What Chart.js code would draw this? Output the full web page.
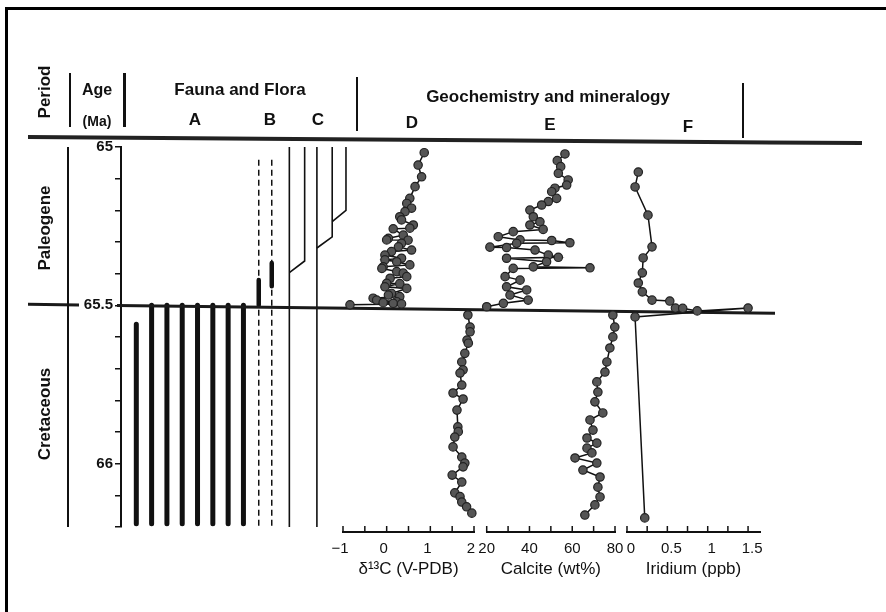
<!DOCTYPE html>
<html>
<head>
<meta charset="utf-8">
<script src="https://cdn.jsdelivr.net/npm/chart.js@4"></script>
<style>
  html, body { margin: 0; padding: 0; background: #fff; }
  #wrap { position: relative; width: 886px; height: 612px; overflow: hidden;
          font-family: "Liberation Sans", Arial, sans-serif; color: #111; }
  #wrap canvas { position: absolute; left: 0; top: 0; }
  .frame { position: absolute; left: 5px; top: 7px; width: 900px; height: 620px;
           border-top: 3px solid #000; border-left: 3px solid #000; }
  .t { position: absolute; font-weight: bold; white-space: nowrap; font-size: 17px;
       transform: translate(-50%, -50%); }
  .rot { transform: translate(-50%, -50%) rotate(-90deg); }
  .v { position: absolute; width: 2px; background: #111; }
  .rule { position: absolute; left: 28px; top: 135px; width: 834px; height: 4px; background: #222;
          transform: rotate(0.42deg); transform-origin: left center; }
</style>
</head>
<body>
<div id="wrap">
  <canvas id="fauna" width="886" height="612"></canvas>
  <canvas id="panelD" width="886" height="612"></canvas>
  <canvas id="panelE" width="886" height="612"></canvas>
  <canvas id="panelF" width="886" height="612"></canvas>

  <div class="frame"></div>
  <div class="rule"></div>
  <div class="v" style="left:69px;top:73px;height:54px"></div>
  <div class="v" style="left:123px;top:73px;height:54px;width:2.5px"></div>
  <div class="v" style="left:356px;top:77px;height:54px"></div>
  <div class="v" style="left:742px;top:83px;height:55px"></div>
  <div class="v" style="left:67px;top:147px;height:380px"></div>

  <div class="t rot" style="left:45px;top:92px">Period</div>
  <div class="t" style="left:97px;top:90px;font-size:16px">Age</div>
  <div class="t" style="left:97px;top:121px;font-size:14px">(Ma)</div>
  <div class="t" style="left:240px;top:90px">Fauna and Flora</div>
  <div class="t" style="left:195px;top:120px">A</div>
  <div class="t" style="left:270px;top:120px">B</div>
  <div class="t" style="left:318px;top:120px">C</div>
  <div class="t" style="left:548px;top:97px">Geochemistry and mineralogy</div>
  <div class="t" style="left:412px;top:123px">D</div>
  <div class="t" style="left:550px;top:125px">E</div>
  <div class="t" style="left:688px;top:127px">F</div>
  <div class="t rot" style="left:45px;top:228px">Paleogene</div>
  <div class="t rot" style="left:45px;top:414px">Cretaceous</div>
</div>

<script>
// age axis (Ma)
const ageLabels = [65, 65.5, 66];
const boundaryAge = 65.5;

// A: lineages that stop at the boundary
const aSlots = [1, 2, 3, 4, 5, 6, 7, 8];
const aTops = [65.56, 65.5, 65.5, 65.5, 65.5, 65.5, 65.5, 65.5];
const aBases = [66.19, 66.19, 66.19, 66.19, 66.19, 66.19, 66.19, 66.19];

// B: dashed ranges with an acme interval
const bSlots = [9, 9.85];
const bTops = [65.04, 65.04];
const bBases = [66.2, 66.2];
const bAcmeTops = [65.42, 65.366];
const bAcmeBases = [65.5, 65.44];

// C: survivors and new lineages branching off
const cSlots = [11, 12, 12.8, 13.8, 14.7];
const cTops = [65, 65, 65, 65, 65];
const cBases = [66.2, 65.36, 66.2, 65.284, 65.2];
const cBranchSlots = [null, 11, null, 12.8, 13.8];
const cBranchAges = [null, 65.397, null, 65.319, 65.236];

// D: d13C (V-PDB)
const dPaleoAges = [65.018, 65.057, 65.094, 65.125, 65.162, 65.178, 65.193, 65.204, 65.220, 65.230,
  65.246, 65.256, 65.258, 65.278, 65.288, 65.293, 65.294, 65.304, 65.315, 65.325,
  65.330, 65.341, 65.351, 65.356, 65.362, 65.372, 65.378, 65.383, 65.393, 65.398,
  65.409, 65.414, 65.430, 65.431, 65.441, 65.446, 65.462, 65.467, 65.472, 65.477,
  65.483, 65.488, 65.491, 65.493, 65.495, 65.498];
const dPaleoValues = [0.86, 0.72, 0.80, 0.65, 0.53, 0.46, 0.57, 0.42, 0.30, 0.34,
  0.61, 0.53, 0.15, 0.38, 0.04, 0.00, 0.49, 0.34, 0.27, 0.57,
  0.11, -0.04, 0.34, -0.04, 0.23, 0.53, -0.08, -0.11, 0.23, 0.38,
  0.46, 0.08, 0.00, 0.30, -0.04, 0.46, 0.11, 0.04, 0.30, -0.31,
  -0.23, 0.23, -0.08, 0.15, 0.34, -0.84];
const dCretAges = [65.530, 65.568, 65.583, 65.609, 65.619, 65.651, 65.678, 65.703, 65.713, 65.751,
  65.776, 65.795, 65.830, 65.883, 65.898, 65.915, 65.946, 65.978, 65.997, 66.009,
  66.035, 66.057, 66.091, 66.103, 66.120, 66.135, 66.155];
const dCretValues = [1.86, 1.91, 1.91, 1.84, 1.87, 1.79, 1.72, 1.75, 1.68, 1.72,
  1.52, 1.75, 1.61, 1.63, 1.64, 1.56, 1.52, 1.72, 1.79, 1.75,
  1.50, 1.72, 1.56, 1.68, 1.72, 1.83, 1.95];

// E: calcite (wt%)
const ePaleoAges = [65.022, 65.043, 65.062, 65.083, 65.104, 65.120, 65.130, 65.141, 65.162, 65.172,
  65.183, 65.199, 65.220, 65.236, 65.246, 65.260, 65.267, 65.283, 65.293, 65.295,
  65.302, 65.304, 65.316, 65.317, 65.325, 65.341, 65.348, 65.351, 65.362, 65.378,
  65.381, 65.383, 65.409, 65.420, 65.441, 65.451, 65.467, 65.483, 65.493, 65.504];
const ePaleoValues = [56.6, 53.0, 54.6, 53.5, 58.1, 57.4, 51.9, 50.4, 52.7, 48.8,
  45.7, 40.2, 41.8, 44.9, 40.2, 46.4, 32.4, 25.4, 35.6, 50.4,
  58.9, 34.0, 21.5, 29.3, 42.6, 48.8, 53.5, 29.3, 48.0, 41.8,
  68.3, 32.4, 28.6, 35.6, 29.3, 38.7, 30.9, 39.4, 27.8, 20.0];
const eCretAges = [65.530, 65.568, 65.599, 65.634, 65.678, 65.710, 65.741, 65.773, 65.804, 65.839,
  65.861, 65.893, 65.918, 65.934, 65.950, 65.965, 65.981, 65.997, 66.019, 66.041,
  66.073, 66.104, 66.129, 66.161];
const eCretValues = [79.0, 79.9, 79.0, 77.6, 76.2, 75.3, 71.5, 72.0, 70.6, 74.3,
  68.3, 69.7, 66.9, 71.5, 66.9, 69.2, 61.3, 71.5, 65.0, 73.0,
  72.0, 73.0, 70.6, 65.9];

// F: iridium (ppb)
const fAges = [65.079, 65.126, 65.215, 65.315, 65.350, 65.397, 65.429, 65.457, 65.483, 65.486,
  65.508, 65.509, 65.517, 65.508, 65.536, 66.170];
const fValues = [0.14, 0.10, 0.26, 0.31, 0.20, 0.19, 0.14, 0.19, 0.31, 0.53,
  0.60, 0.69, 0.87, 1.50, 0.10, 0.22];

// x axis ticks
const dTicks = [-1, -0.5, 0, 0.5, 1, 1.5, 2];
const dTickLabels = [-1, 0, 1, 2];
const eTicks = [20, 30, 40, 50, 60, 70, 80];
const eTickLabels = [20, 40, 60, 80];
const fTicks = [0, 0.25, 0.5, 0.75, 1, 1.25, 1.5];
const fTickLabels = [0, 0.5, 1, 1.5];

const FONT = '"Liberation Sans", Arial, sans-serif';
const INK = '#111';
const AGE_TOP_PX = 147;
const PX_PER_MA = 317;

const near = (list, v) => list.some(t => Math.abs(t - v) < 1e-6);

function range(x, top, base, width, dash, cap) {
  return {
    data: [{ x, y: top }, { x, y: base }],
    borderColor: INK, borderWidth: width, borderDash: dash || [],
    borderCapStyle: cap || 'butt', pointRadius: 0, tension: 0, clip: false
  };
}

function curve(ages, values) {
  return {
    data: ages.map((a, i) => ({ x: values[i], y: a })),
    borderColor: INK, borderWidth: 1.5, tension: 0, clip: false,
    pointRadius: 4.2,
    pointBackgroundColor: '#555', pointBorderColor: '#222', pointBorderWidth: 1.2
  };
}

// thick boundary line, slightly tilted like the scanned figure, broken round the 65.5 label
const boundary = {
  id: 'boundary',
  afterDatasetsDraw(chart) {
    const y = chart.scales.y.getPixelForValue(boundaryAge);
    const x0 = 28, x1 = 775, dy0 = -1, dy1 = 8;
    const yAt = x => y + dy0 + (dy1 - dy0) * (x - x0) / (x1 - x0);
    const ctx = chart.ctx;
    ctx.save();
    ctx.strokeStyle = '#1a1a1a';
    ctx.lineWidth = 3;
    [[x0, 79], [117, x1]].forEach(([a, b]) => {
      ctx.beginPath();
      ctx.moveTo(a, yAt(a));
      ctx.lineTo(b, yAt(b));
      ctx.stroke();
    });
    ctx.restore();
  }
};

// tick marks pointing up from the x axis
const upTicks = {
  id: 'upTicks',
  afterDraw(chart) {
    const s = chart.scales.x;
    const y = chart.chartArea.bottom;
    const ctx = chart.ctx;
    ctx.save();
    ctx.strokeStyle = INK;
    ctx.lineWidth = 1.5;
    s.ticks.forEach(t => {
      const x = s.getPixelForValue(t.value);
      ctx.beginPath();
      ctx.moveTo(x, y);
      ctx.lineTo(x, y - 6);
      ctx.stroke();
    });
    ctx.restore();
  }
};

const faunaSets = [];
aSlots.forEach((s, i) => faunaSets.push(range(s, aTops[i], aBases[i], 5, null, 'round')));
bSlots.forEach((s, i) => {
  faunaSets.push(range(s, bTops[i], bBases[i], 1.5, [6, 4]));
  faunaSets.push(range(s, bAcmeTops[i], bAcmeBases[i], 4.5, null, 'round'));
});
cSlots.forEach((s, i) => {
  const set = range(s, cTops[i], cBases[i], 1.6);
  if (cBranchSlots[i] !== null) set.data.push({ x: cBranchSlots[i], y: cBranchAges[i] });
  faunaSets.push(set);
});

new Chart(document.getElementById('fauna'), {
  type: 'line',
  data: { datasets: faunaSets },
  options: {
    responsive: false,
    animation: false,
    layout: { padding: { left: 0, top: AGE_TOP_PX, right: 886 - 357, bottom: 612 - 527 } },
    plugins: { legend: { display: false }, tooltip: { enabled: false } },
    scales: {
      x: { type: 'linear', display: false, min: 0, max: 15.42 },
      y: {
        type: 'linear', reverse: true, min: 65, max: 66.2,
        afterFit: s => { s.width = 121; },
        border: { display: true, color: INK, width: 2 },
        grid: { drawOnChartArea: false, tickLength: 6, color: INK, lineWidth: 1.5 },
        ticks: {
          stepSize: 0.1, padding: 2, autoSkip: false, color: INK,
          font: { family: FONT, size: 15, weight: 'bold' },
          callback: v => (near(ageLabels, v) ? String(Math.round(v * 10) / 10) : '')
        }
      }
    }
  },
  plugins: [boundary]
});

function panel(id, datasets, min, max, left, right, ticks, labels, title, shift) {
  const ageMax = 65 + (532 - AGE_TOP_PX) / PX_PER_MA;
  return new Chart(document.getElementById(id), {
    type: 'line',
    data: { datasets },
    options: {
      responsive: false,
      animation: false,
      indexAxis: 'y',
      layout: { padding: { left, right: 886 - right, top: AGE_TOP_PX, bottom: 0 } },
      plugins: { legend: { display: false }, tooltip: { enabled: false } },
      scales: {
        y: { type: 'linear', reverse: true, min: 65, max: ageMax, display: false },
        x: {
          type: 'linear', position: 'bottom', min, max,
          afterFit: s => { s.height = 80; },
          afterBuildTicks: s => { s.ticks = ticks.map(v => ({ value: v })); },
          border: { display: true, color: INK, width: 2 },
          grid: { display: false, drawTicks: false },
          ticks: {
            padding: 8, autoSkip: false, maxRotation: 0, color: INK, labelOffset: shift,
            font: { family: FONT, size: 15 },
            callback: v => (near(labels, v) ? (v < 0 ? '\u2212' + Math.abs(v) : String(v)) : '')
          },
          title: {
            display: true, text: title, color: INK,
            font: { family: FONT, size: 17 },
            padding: { top: 0, bottom: 32 }
          }
        }
      }
    },
    plugins: [upTicks]
  });
}

panel('panelD', [curve(dPaleoAges, dPaleoValues), curve(dCretAges, dCretValues)],
  -1, 2, 343, 474, dTicks, dTickLabels, '\u03B4\u00B9\u00B3C (V-PDB)', -3);
panel('panelE', [curve(ePaleoAges, ePaleoValues), curve(eCretAges, eCretValues)],
  20, 80, 486.7, 615, eTicks, eTickLabels, 'Calcite (wt%)', 0);
panel('panelF', [curve(fAges, fValues)],
  0, 1.648, 627, 760, fTicks, fTickLabels, 'Iridium (ppb)', 4);
</script>
</body>
</html>
